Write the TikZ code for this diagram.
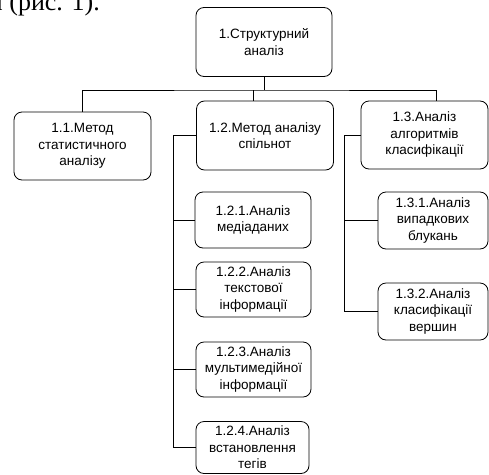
\documentclass[tikz,border=0pt]{standalone}
\usepackage{fontspec}
\setmainfont{Liberation Sans}
\newfontfamily\capfont{Liberation Serif}
\usetikzlibrary{calc}
\usetikzlibrary{positioning}

\begin{document}
\begin{tikzpicture}[x=1pt,y=-1pt,
  box/.style={draw, line width=0.8pt, rounded corners=8pt, align=center,
    inner sep=0pt, font=\fontsize{13.5}{16.5}\selectfont},
  conn/.style={line width=0.9pt}]
\useasboundingbox (0,0) rectangle (489,474);

% text of the page above
\node[anchor=base east, inner sep=0pt, font=\capfont\fontsize{26}{30}\selectfont] (cap) at (100,10.5) {и (рис. 1).};

% top level
\node[box, minimum width=136, minimum height=69] (root) at (264,42) {1.Структурний\\аналіз};

% second level
\node[box, minimum width=137, minimum height=68] (b11) at (82.5,146) {1.1.Метод\\статистичного\\аналізу};
\node[box, minimum width=137, minimum height=69] (b12) at (265,135.5) {1.2.Метод аналізу\\спільнот};
\node[box, minimum width=127, minimum height=68] (b13) at (424.5,135) {1.3.Аналіз\\алгоритмів\\класифікації};

% under 1.2
\node[box, minimum width=116, minimum height=56] (b121) at (253,220) {1.2.1.Аналіз\\медіаданих};
\node[box, minimum width=115, minimum height=55] (b122) at (253.5,289.5) {1.2.2.Аналіз\\текстової\\інформації};
\node[box, minimum width=115, minimum height=55] (b123) at (253.5,369.5) {1.2.3.Аналіз\\мультимедійної\\інформації};
\node[box, minimum width=113, minimum height=52] (b124) at (252.5,447.5) {1.2.4.Аналіз\\встановлення\\тегів};

% under 1.3
\node[box, minimum width=110, minimum height=57] (b131) at (433,220.5) {1.3.1.Аналіз\\випадкових\\блукань};
\node[box, minimum width=110, minimum height=57] (b132) at (433,311.5) {1.3.2.Аналіз\\класифікації\\вершин};

% horizontal
\coordinate (bus) at (264,90);
\draw[conn] (root.south) -- (bus);
\draw[conn] (b11.north) |- (bus) -| ([xshift=11.5]b13.north);
\draw[conn] ([xshift=-12]b12.north) -- ([xshift=-12]b12.north |- bus);

% vertical
\coordinate (l12) at (173,0);
\coordinate (l13) at (344,0);
\draw[conn] (b12.west) -- (b12.west -| l12) |- (b124.west);
\foreach \n in {b121,b122,b123}
  \draw[conn] (\n.west) -- (\n.west -| l12);
\draw[conn] (b13.west) -- (b13.west -| l13) |- (b132.west);
\draw[conn] (b131.west) -- (b131.west -| l13);

\end{tikzpicture}
\end{document}
